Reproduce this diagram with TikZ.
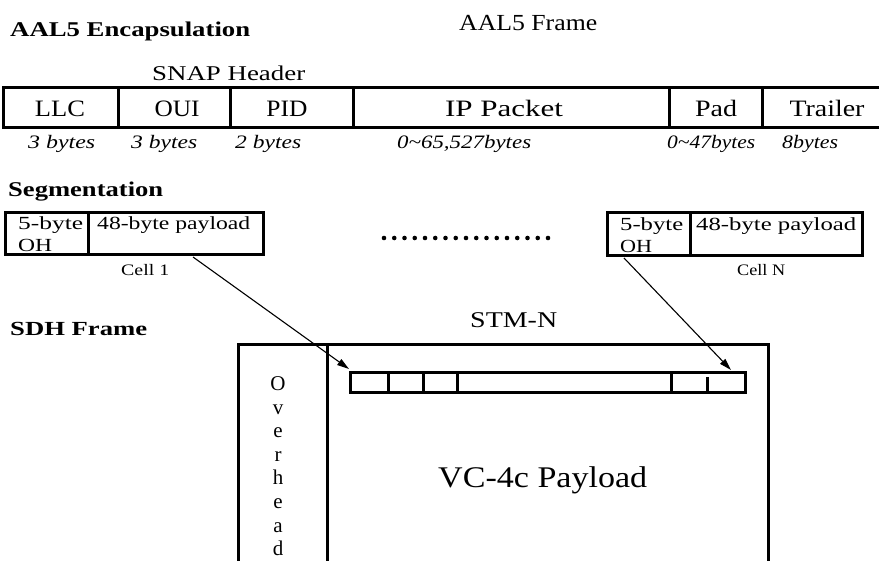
\documentclass[tikz,border=0pt]{standalone}
\usepackage{fontspec}
\setmainfont{Liberation Serif}
\usetikzlibrary{arrows.meta}
% text at a given size, stretched to a given width
\newcommand\tx[3]{{\fontsize{#1}{#1}\selectfont\resizebox{#2pt}{\height}{#3}}}
\begin{document}
\begin{tikzpicture}[x=1pt,y=-1pt,
  frame/.style={line width=3pt},
  lw/.style={inner sep=0pt,anchor=base west},
  lc/.style={inner sep=0pt,anchor=base},
  link/.style={line width=1.1pt,-{Triangle[length=12pt,width=7pt]}}]
\useasboundingbox (0,0) rectangle (879,561);
\clip (0,0) rectangle (879,561);

% ---- section headings ----
\node[lw] (hAAL) at (10,37) {\tx{21}{240}{\bfseries AAL5 Encapsulation}};
\node[lw] (hSeg) at (8,197) {\tx{21}{155}{\bfseries Segmentation}};
\node[lw] (hSDH) at (10,336) {\tx{20}{137}{\bfseries SDH Frame}};
\node[lw] (tFrame) at (459,31) {\tx{23}{138}{AAL5 Frame}};
\node[lw] (tSTM) at (470,328) {\tx{22.5}{87}{STM-N}};

% ---- AAL5 frame ----
\node[lw] (snap) at (152,81) {\tx{21}{153}{SNAP Header}};
\draw[frame] (882,88) -- (3,88) -- (3,128) -- (882,128);
\foreach \xx in {118,230,353,669,762} \draw[frame] (\xx,88) -- (\xx,128);
\node[lc] (llc) at (60,117) {\tx{23.5}{50}{LLC}};
\node[lc] (oui) at (177,117) {\tx{23.5}{45}{OUI}};
\node[lc] (pid) at (287,117) {\tx{23.5}{41}{PID}};
\node[lc] (ip) at (504,117) {\tx{23.5}{118}{IP Packet}};
\node[lc] (pad) at (716,117) {\tx{23.5}{42}{Pad}};
\node[lc] (trl) at (827,117) {\tx{23.5}{75}{Trailer}};
% byte counts
\node[lw] (b1) at (28,149) {\tx{19}{67}{\itshape 3 bytes}};
\node[lw] (b2) at (131,149) {\tx{19}{66}{\itshape 3 bytes}};
\node[lw] (b3) at (235,149) {\tx{19}{66}{\itshape 2 bytes}};
\node[lw] (b4) at (397,149) {\tx{19}{134}{\itshape 0\textasciitilde 65,527bytes}};
\node[lw] (b5) at (667,149) {\tx{19}{88}{\itshape 0\textasciitilde 47bytes}};
\node[lw] (b6) at (782,149) {\tx{19}{56}{\itshape 8bytes}};

% ---- ATM cells ----
\draw[frame] (5,213) rectangle (263,255);
\draw[frame] (88,213) -- (88,255);
\node[lw] (c1oh) at (18,230) {\tx{18.5}{65}{5-byte}};
\node[lw] (c1ohb) at (18,252) {\tx{18.5}{34}{OH}};
\node[lw] (c1pl) at (97,230) {\tx{18.5}{153}{48-byte payload}};
\node[lw] (c1lab) at (121,276) {\tx{16}{48}{Cell 1}};

\draw[frame] (607,213) rectangle (862,256);
\draw[frame] (690,213) -- (690,256);
\node[lw] (cNoh) at (620,231) {\tx{18.5}{63}{5-byte}};
\node[lw] (cNohb) at (620,253) {\tx{18.5}{32}{OH}};
\node[lw] (cNpl) at (696,231) {\tx{18.5}{160}{48-byte payload}};
\node[lw] (cNlab) at (737,276) {\tx{16}{48}{Cell N}};

\foreach \k in {0,...,16} \fill (384+10.25*\k,238) circle (2.3);

% ---- SDH frame ----
\draw[frame] (238,570) -- (238,345) -- (768,345) -- (768,570);
\draw[frame] (327,345) -- (327,570);
\foreach \ch [count=\k from 0] in {O,v,e,r,h,e,a,d}
  \node[lc] (ov\k) at (278,391+23.5*\k) {\fontsize{21}{21}\selectfont\ch};
\node[lw] (vc) at (438,487) {\tx{30}{209}{VC-4c Payload}};

% cell slots inside the payload
\draw[frame] (350,373) rectangle (745,393);
\foreach \xx in {388,423,457,671} \draw[frame] (\xx,373) -- (\xx,393);
\draw[frame] (707,377) -- (707,393);

% ---- mapping arrows ----
\coordinate (c1src) at (193,257);
\coordinate (c1dst) at (349,369);
\coordinate (cNsrc) at (624,258);
\coordinate (cNdst) at (731,370);
\draw[link] (c1src) -- (c1dst);
\draw[link] (cNsrc) -- (cNdst);
\end{tikzpicture}
\end{document}
